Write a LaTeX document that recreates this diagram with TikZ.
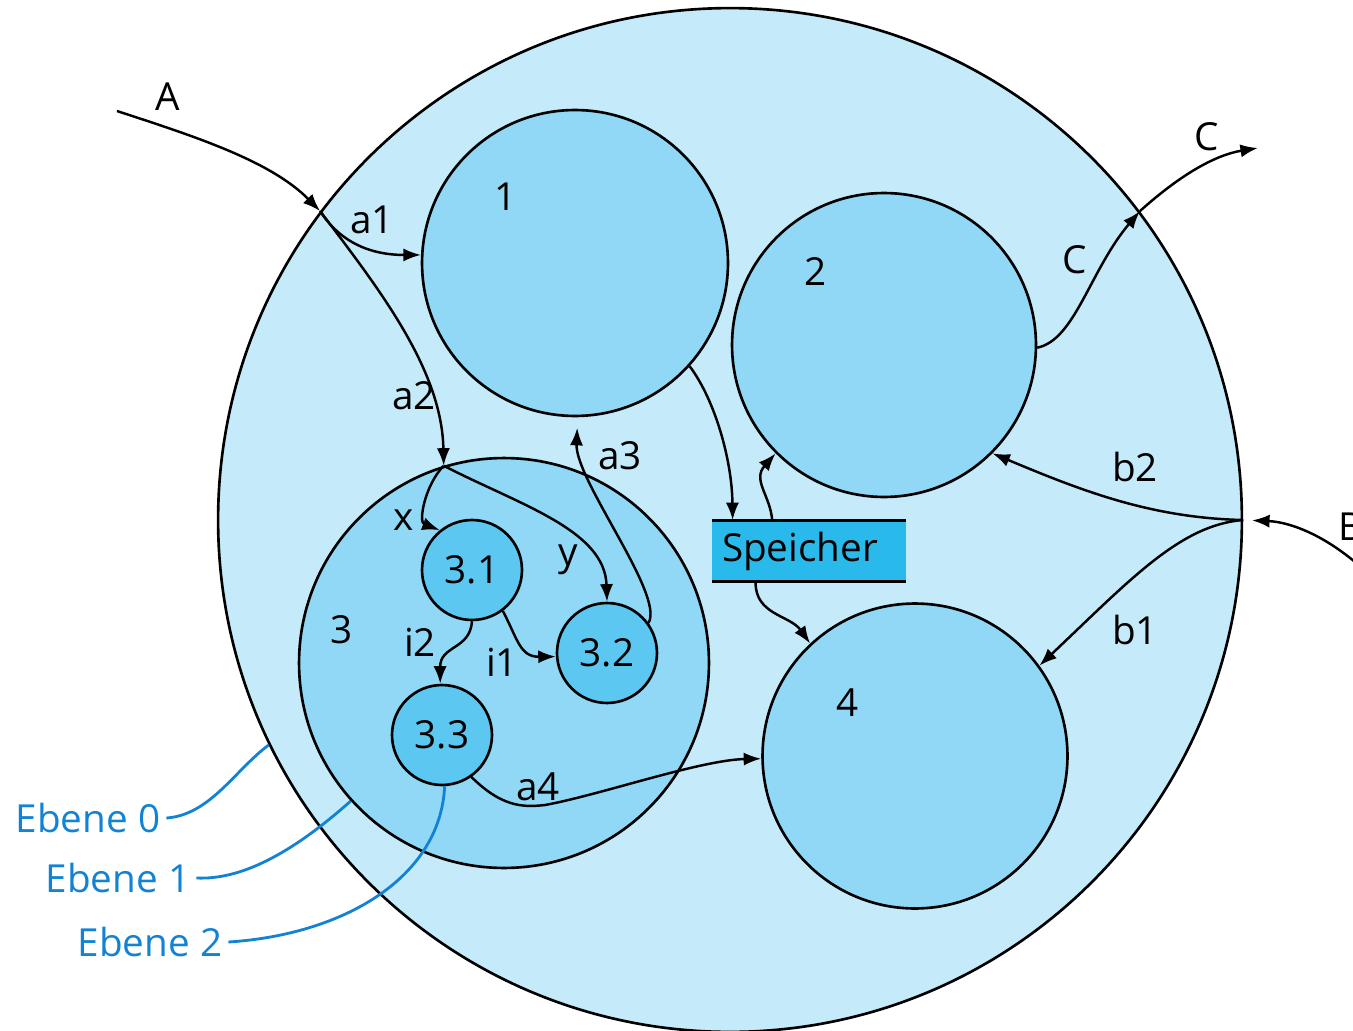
\documentclass[tikz,border=0pt]{standalone}
\usepackage{fontspec}
\setmainfont{Open Sans}
\usetikzlibrary{arrows.meta}

\definecolor{ebenezero}{RGB}{197,234,250}
\definecolor{ebeneone}{RGB}{144,216,245}
\definecolor{ebenetwo}{RGB}{92,200,241}
\definecolor{speicherblue}{RGB}{41,185,235}
\definecolor{labelblue}{RGB}{18,131,212}

\tikzset{
  lvl/.style={circle, draw, line width=1.5pt, inner sep=0pt},
  lvlzero/.style={lvl, fill=ebenezero},
  lvlone/.style={lvl, fill=ebeneone},
  lvltwo/.style={lvl, fill=ebenetwo, minimum size=2cm},
  flow/.style={line width=1.4pt, -{Latex[length=10pt,width=7.5pt]}},
  guide/.style={line width=1.6pt, draw=labelblue},
  ebene/.style={text=labelblue},
}

\begin{document}
\begin{tikzpicture}[x=0.02cm, y=-0.02cm, font=\fontsize{22}{26}\selectfont]
    \useasboundingbox (0,0) rectangle (1353,1031);

    % Level 0
    \node[lvlzero, minimum size=20.48cm] (p0) at (730,520) {};

    % Level 1
    \node[lvlone, minimum size=6.12cm] (p1) at (575,263) {};
    \node[lvlone, minimum size=6.08cm] (p2) at (884,345) {};
    \node[lvlone, minimum size=8.2cm] (p3) at (504,663) {};
    \node[lvlone, minimum size=6.1cm] (p4) at (915,756) {};

    % Level 2
    \node[lvltwo] (p31) at (472,570) {3.1};
    \node[lvltwo] (p32) at (607,653) {3.2};
    \node[lvltwo] (p33) at (442,735) {3.3};

    % Speicher
    \node[fill=speicherblue, minimum height=1.22cm, text width=3.48cm,
          inner xsep=0.2cm, inner ysep=0pt, align=left] (spc) at (809,551) {Speicher};
    \draw[line width=1.8pt] (spc.north west) -- (spc.north east);
    \draw[line width=1.8pt] (spc.south west) -- (spc.south east);

    % Junctions and free ends
    \coordinate (jA) at (p0.143);
    \coordinate (jC) at (p0.37);
    \coordinate (jB) at (p0.0);
    \coordinate (j3) at (p3.107);
    \coordinate (Astart) at (117,111);
    \coordinate (Cend) at (1258,148);
    \coordinate (Bstart) at (1362,568);

    % Flows
    \draw[flow] (Astart) .. controls (190,135) and (270,160) .. (jA);
    \draw[flow] (jA) .. controls (340,242) and (370,255) .. (p1.177);
    \draw[flow] (jA) .. controls (380,290) and (442,370) .. (j3);
    \draw[flow] (j3) .. controls (425,485) and (418,522) .. (p31.129);
    \draw[flow] (j3) .. controls (520,505) and (605,530) .. (p32.90);
    \draw[flow] (p31.-90) .. controls (470,650) and (440,645) .. (p33.92);
    \draw[flow] (p31.-53) .. controls (518,640) and (520,657) .. (p32.184);
    \draw[flow, shorten >=6pt] (p32.36) .. controls (665,595) and (575,480) .. (p1.-89);
    \draw[flow] (p1.-42) .. controls (715,400) and (732,460) .. (spc.158);
    \draw[flow] (spc.140) .. controls (770,495) and (752,480) .. (p2.-135);
    \draw[flow] (spc.-150) .. controls (755,615) and (790,615) .. (p4.133);
    \draw[flow] (p2.-1) .. controls (1075,340) and (1090,270) .. (jC);
    \draw[flow] (jC) .. controls (1180,175) and (1215,155) .. (Cend);
    \draw[flow, shorten >=5pt] (Bstart) .. controls (1325,535) and (1290,522) .. (jB);
    \draw[flow] (jB) .. controls (1150,518) and (1080,490) .. (p2.-45);
    \draw[flow] (jB) .. controls (1180,525) and (1130,580) .. (p4.36);
    \draw[line width=1.4pt] (p33.-55) .. controls (500,805) and (520,808) .. (545,805) coordinate (a4mid);
    \draw[flow] (a4mid) .. controls (600,795) and (700,760) .. (p4.181);

    % Labels
    \node at (168,97) {A};
    \node at (372,220) {a1};
    \node at (414,396) {a2};
    \node at (620,456) {a3};
    \node at (538,787) {a4};
    \node at (404,520) {x};
    \node at (568,560) {y};
    \node at (420,642) {i2};
    \node at (502,662) {i1};
    \node at (506,197) {1};
    \node at (816,272) {2};
    \node at (342,630) {3};
    \node at (848,703) {4};
    \node at (1075,260) {C};
    \node at (1207,137) {C};
    \node at (1135,467) {b2};
    \node at (1135,630) {b1};
    \node[anchor=west, inner sep=0pt] at (1338,527) {B};

    % Ebene labels
    \node[ebene] (e0) at (88,818) {Ebene 0};
    \node[ebene] (e1) at (118,878) {Ebene 1};
    \node[ebene] (e2) at (150,942) {Ebene 2};
    \draw[guide] (e0.east) .. controls (210,815) and (235,770) .. (p0.-154);
    \draw[guide] (e1.east) .. controls (240,880) and (290,855) .. (p3.-138);
    \draw[guide] (e2.east) .. controls (340,935) and (440,880) .. (p33.-87);
\end{tikzpicture}
\end{document}
